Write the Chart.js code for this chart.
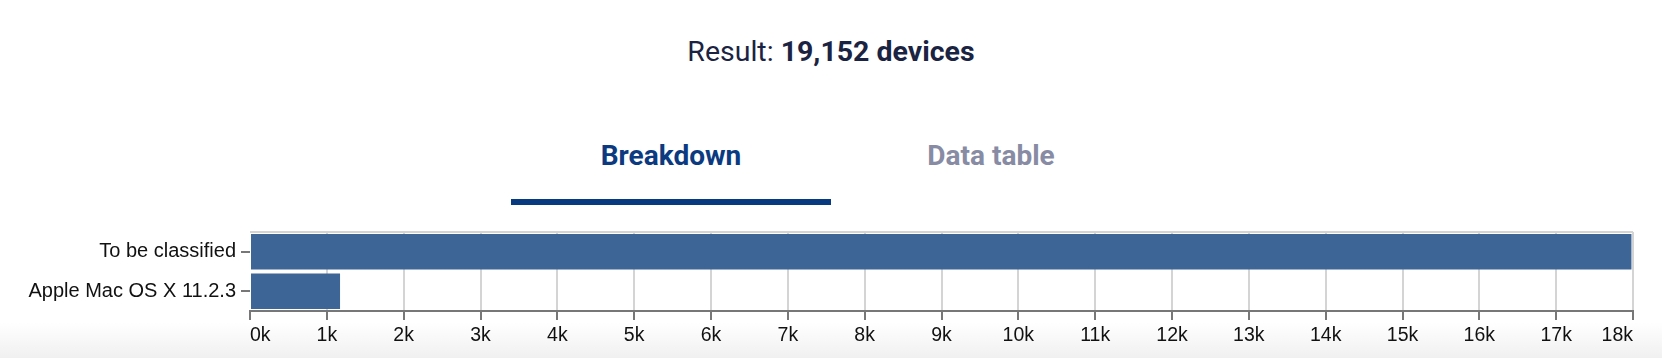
<!DOCTYPE html>
<html>
<head>
<meta charset="utf-8">
<script src="https://cdn.jsdelivr.net/npm/chart.js@4"></script>
<style>
  html, body { margin: 0; padding: 0; background: #fff; }
  body { width: 1662px; height: 358px; position: relative; overflow: hidden; font-family: Roboto, sans-serif; }
  .title { position: absolute; top: 35px; left: 0; width: 1662px; text-align: center; font-size: 28.5px; line-height: 34px; color: #1b2342; }
  .title b { font-weight: 700; }
  .tab { position: absolute; top: 139px; width: 320px; text-align: center; font-size: 28px; line-height: 34px; font-weight: 700; }
  .tab.active { left: 511px; color: #0b3a80; }
  .tab.idle { left: 831px; color: #878ba4; }
  .underline { position: absolute; left: 511px; top: 199px; width: 320px; height: 6px; background: #083a80; }
  .shade { position: absolute; left: 0; top: 322px; width: 1662px; height: 36px;
    background: linear-gradient(to bottom, rgba(0,0,0,0), rgba(0,0,0,0.06)); }
  #wrap { position: absolute; left: 0; top: 215px; width: 1662px; height: 143px; }
</style>
</head>
<body>
<div class="shade"></div>
<div class="title">Result: <b>19,152 devices</b></div>
<div class="tab active">Breakdown</div>
<div class="tab idle">Data table</div>
<div class="underline"></div>
<div id="wrap"><canvas id="osChart"></canvas></div>
<script>
const categories = ['To be classified', 'Apple Mac OS X 11.2.3'];
const deviceCounts = [17980, 1172];
const xMax = 18000;
const xStep = 1000;

// thin grey frame line along the top of the plot
const topFrame = {
    id: 'topFrame',
    afterDatasetsDraw(chart) {
        const { ctx, chartArea } = chart;
        ctx.save();
        ctx.strokeStyle = '#d4d4d4';
        ctx.lineWidth = 2;
        ctx.beginPath();
        ctx.moveTo(chartArea.left, chartArea.top);
        ctx.lineTo(chartArea.right, chartArea.top);
        ctx.stroke();
        ctx.restore();
    }
};

const ctx = document.getElementById('osChart').getContext('2d');
window.osChart = new Chart(ctx, {
    type: 'bar',
    data: {
        labels: categories,
        datasets: [{
            label: 'Devices',
            data: deviceCounts,
            backgroundColor: '#3d6596',
            borderWidth: 0,
            barPercentage: 0.9,
            categoryPercentage: 1
        }]
    },
    options: {
        indexAxis: 'y',
        responsive: true,
        maintainAspectRatio: false,
        animation: false,
        layout: { padding: { top: 16, right: 29, bottom: 0, left: 0 } },
        plugins: {
            legend: { display: false },
            tooltip: { enabled: false }
        },
        scales: {
            x: {
                min: 0,
                max: xMax,
                afterFit: (scale) => { scale.height = 47; },
                ticks: {
                    stepSize: xStep,
                    padding: 4,
                    align: 'inner',
                    color: '#111',
                    font: { family: '"Liberation Sans", Arial, sans-serif', size: 19.5 },
                    callback: (v) => (v / 1000) + 'k'
                },
                grid: {
                    color: (c) => c.index === 0 ? 'rgba(0,0,0,0)' : '#d4d4d4',
                    lineWidth: 2,
                    tickColor: '#777',
                    tickLength: 9
                },
                border: { color: '#777', width: 2 }
            },
            y: {
                afterFit: (scale) => { scale.width = 250; },
                ticks: {
                    padding: 5,
                    color: '#111',
                    font: { family: '"Liberation Sans", Arial, sans-serif', size: 20 }
                },
                grid: {
                    drawOnChartArea: false,
                    offset: false,
                    tickColor: '#777',
                    tickLength: 9,
                    lineWidth: 2
                },
                border: { display: false }
            }
        }
    },
    plugins: [topFrame]
});
</script>
</body>
</html>
